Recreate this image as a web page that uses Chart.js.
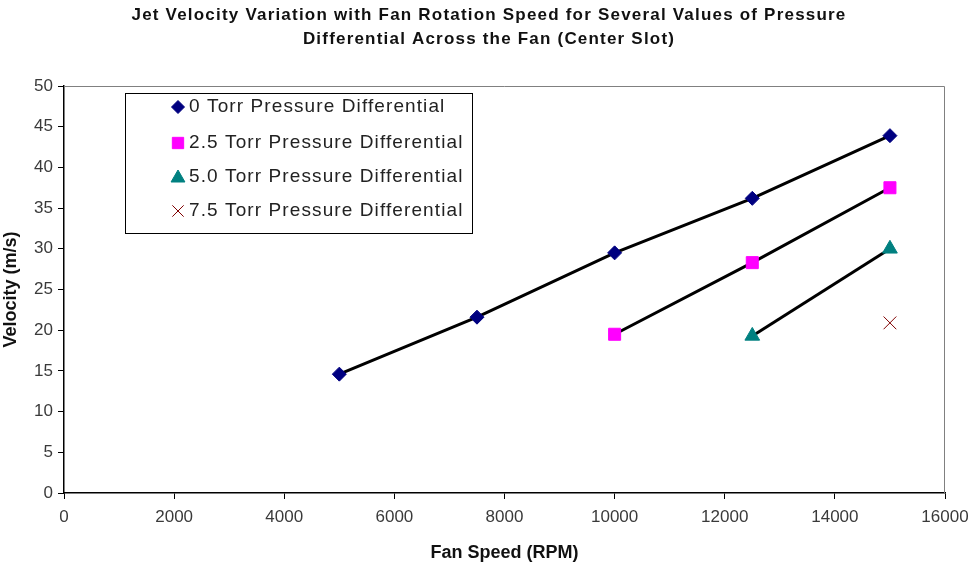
<!DOCTYPE html>
<html>
<head>
<meta charset="utf-8">
<script src="https://cdn.jsdelivr.net/npm/chart.js@4.4.1/dist/chart.umd.min.js"></script>
<style>
  html, body { margin: 0; padding: 0; background: #fff; }
  #wrap { width: 971px; height: 568px; }
</style>
</head>
<body>
<div id="wrap"><canvas id="c" width="971" height="568"></canvas></div>
<script>
// Fan speed (RPM) and jet velocity (m/s) for each pressure differential
const speed0 = [5000, 7500, 10000, 12500, 15000];
const vel0 = [14.6, 21.6, 29.5, 36.2, 43.9];
const speed25 = [10000, 12500, 15000];
const vel25 = [19.5, 28.3, 37.5];
const speed50 = [12500, 15000];
const vel50 = [19.3, 30.0];
const speed75 = [15000];
const vel75 = [20.9];

const seriesNames = [
  '0 Torr Pressure Differential',
  '2.5 Torr Pressure Differential',
  '5.0 Torr Pressure Differential',
  '7.5 Torr Pressure Differential'
];
const titleLines = [
  'Jet Velocity Variation with Fan Rotation Speed for Several Values of Pressure',
  'Differential Across the Fan (Center Slot)'
];
const xTitle = 'Fan Speed (RPM)';
const yTitle = 'Velocity (m/s)';

const pts = (xs, ys) => xs.map((x, i) => ({ x: x, y: ys[i] }));

const styles = [
  { color: '#000080', shape: 'rectRot', radius: 7 },
  { color: '#ff00ff', shape: 'rect', radius: 8.5 },
  { color: '#008080', shape: 'triangle', radius: 8.5 },
  { color: '#800000', shape: 'crossRot', radius: 9 }
];
const seriesData = [pts(speed0, vel0), pts(speed25, vel25), pts(speed50, vel50), pts(speed75, vel75)];

const datasets = seriesData.map((d, i) => ({
  label: seriesNames[i],
  data: d,
  showLine: true,
  borderColor: '#000',
  borderWidth: 3,
  pointStyle: styles[i].shape,
  pointRadius: styles[i].radius,
  pointBackgroundColor: styles[i].color,
  pointBorderColor: styles[i].color,
  pointBorderWidth: 1
}));

const FONT = '"Liberation Sans", Arial, sans-serif';

// Plot frame (grey top/right edge) and the two-line title
const framePlugin = {
  id: 'frame',
  beforeDatasetsDraw(chart) {
    const a = chart.chartArea, ctx = chart.ctx;
    ctx.save();
    ctx.strokeStyle = '#808080';
    ctx.lineWidth = 1;
    ctx.beginPath();
    ctx.moveTo(a.left, a.top + 0.5);
    ctx.lineTo(a.right - 0.5, a.top + 0.5);
    ctx.lineTo(a.right - 0.5, a.bottom);
    ctx.stroke();
    ctx.restore();
  },
  afterDraw(chart) {
    const ctx = chart.ctx;
    ctx.save();
    ctx.letterSpacing = '1.2px';
    ctx.fillStyle = '#111';
    ctx.font = 'bold 17px ' + FONT;
    ctx.textAlign = 'center';
    ctx.textBaseline = 'middle';
    ctx.fillText(titleLines[0], 489, 15);
    ctx.fillText(titleLines[1], 489, 39);
    ctx.restore();
  }
};

// Boxed legend inside the plot area
const boxLegend = {
  id: 'boxLegend',
  afterDraw(chart) {
    const ctx = chart.ctx;
    const x0 = 125, y0 = 93, w = 347, h = 140;
    ctx.save();
    ctx.fillStyle = '#fff';
    ctx.fillRect(x0, y0, w, h);
    ctx.strokeStyle = '#000';
    ctx.lineWidth = 1;
    ctx.strokeRect(x0 + 0.5, y0 + 0.5, w, h);
    const rowY = [107, 143, 177, 211];
    chart.data.datasets.forEach((ds, i) => {
      const st = styles[i];
      ctx.fillStyle = st.color;
      ctx.strokeStyle = st.color;
      ctx.lineWidth = 1;
      Chart.helpers.drawPoint(ctx, {
        pointStyle: st.shape,
        radius: st.shape === 'rectRot' ? 6.5 : 8,
        borderWidth: 1
      }, 178, rowY[i] + (st.shape === 'triangle' ? 1 : 0));
      ctx.fillStyle = '#222';
      ctx.font = '19px ' + FONT;
      ctx.letterSpacing = '1.1px';
      ctx.textBaseline = 'middle';
      ctx.textAlign = 'left';
      ctx.fillText(ds.label, 189, rowY[i]);
      ctx.letterSpacing = '0px';
    });
    ctx.restore();
  }
};

new Chart(document.getElementById('c'), {
  type: 'scatter',
  data: { datasets: datasets },
  options: {
    responsive: false,
    animation: false,
    devicePixelRatio: 1,
    layout: { padding: { left: 0, right: 26, top: 86, bottom: 0 } },
    plugins: {
      legend: { display: false },
      tooltip: { enabled: false },
      title: { display: false }
    },
    scales: {
      x: {
        type: 'linear',
        min: 0, max: 16000,
        afterFit(s) { s.height = 75; s.paddingLeft = 0; s.paddingRight = 0; },
        ticks: {
          stepSize: 2000, color: '#3a3a3a', font: { family: FONT, size: 17 }, padding: 8, maxRotation: 0,
          callback: v => String(v)
        },
        grid: { display: true, drawOnChartArea: false, drawTicks: true, tickLength: 6, color: '#000' },
        border: { color: '#000', width: 1.5 },
        title: { display: true, text: xTitle, color: '#111', font: { family: FONT, size: 18, weight: 'bold' }, padding: { top: 0, bottom: 4 } }
      },
      y: {
        type: 'linear',
        min: 0, max: 50,
        afterFit(s) { s.width = 64; s.paddingTop = 0; s.paddingBottom = 0; },
        ticks: { stepSize: 5, color: '#3a3a3a', font: { family: FONT, size: 17 }, padding: 5 },
        grid: { display: true, drawOnChartArea: false, drawTicks: true, tickLength: 6, color: '#000' },
        border: { color: '#000', width: 1.5 },
        title: { display: true, text: yTitle, color: '#111', font: { family: FONT, size: 18, weight: 'bold' }, padding: { top: 0, bottom: 0 } }
      }
    }
  },
  plugins: [framePlugin, boxLegend]
});
</script>
</body>
</html>
